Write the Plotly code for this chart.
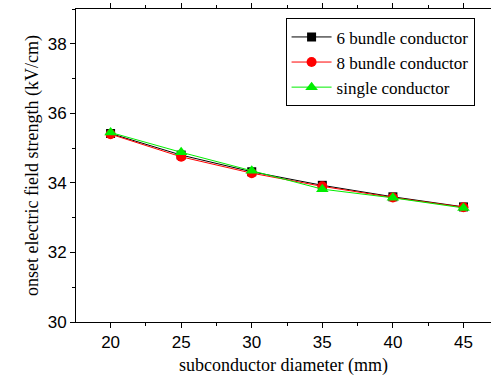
import plotly.graph_objects as go

diameters = [20, 25, 30, 35, 40, 45]
six_bundle = [35.42, 34.80, 34.32, 33.93, 33.60, 33.31]
eight_bundle = [35.40, 34.75, 34.28, 33.90, 33.58, 33.30]
single = [35.45, 34.88, 34.35, 33.82, 33.57, 33.28]

SERIF = "Liberation Serif, Times New Roman, DejaVu Serif, serif"
SANS = "Liberation Sans, Arial, sans-serif"

fig = go.Figure()
fig.add_trace(go.Scatter(x=diameters, y=six_bundle, name="6 bundle conductor",
                         mode="lines+markers", line=dict(color="black", width=1),
                         marker=dict(symbol="square", size=9, color="black")))
fig.add_trace(go.Scatter(x=diameters, y=eight_bundle, name="8 bundle conductor",
                         mode="lines+markers", line=dict(color="red", width=1),
                         marker=dict(symbol="circle", size=10, color="red")))
fig.add_trace(go.Scatter(x=diameters, y=single, name="single conductor",
                         mode="lines+markers", line=dict(color="#00ee00", width=1),
                         marker=dict(symbol="triangle-up", size=11, color="#00ee00")))

fig.update_layout(
    width=492, height=384,
    margin=dict(l=76, r=1, t=9, b=62),
    plot_bgcolor="white", paper_bgcolor="white",
    showlegend=True,
    legend=dict(x=0.505, y=0.97, xanchor="left", yanchor="top",
                bordercolor="black", borderwidth=1, bgcolor="white",
                font=dict(family=SERIF, size=17, color="black"),
                tracegroupgap=0, itemwidth=40),
    font=dict(family=SANS, size=17, color="black"),
)
fig.update_xaxes(range=[17.55, 46.95], tickmode="array", tickvals=diameters,
                 ticks="outside", ticklen=5, tickcolor="black",
                 showline=True, linecolor="black", linewidth=1, mirror="allticks",
                 showgrid=False, zeroline=False,
                 minor=dict(tickvals=[17.5, 22.5, 27.5, 32.5, 37.5, 42.5, 47.5],
                            ticks="outside", ticklen=3, tickcolor="black"),
                 title=dict(text="subconductor diameter (mm)",
                            font=dict(family=SERIF, size=18), standoff=6),
                 tickfont=dict(family=SANS, size=17))
fig.update_yaxes(range=[30, 39], tickvals=[30, 32, 34, 36, 38],
                 ticks="outside", ticklen=5, tickcolor="black",
                 showline=True, linecolor="black", linewidth=1, mirror=False,
                 showgrid=False, zeroline=False,
                 minor=dict(tickvals=[31, 33, 35, 37, 39], ticks="outside",
                            ticklen=3, tickcolor="black"),
                 title=dict(text="onset electric field strength (kV/cm)",
                            font=dict(family=SERIF, size=18), standoff=4),
                 tickfont=dict(family=SANS, size=17))

fig.write_html("out.html", config={"displayModeBar": False},
               post_script="document.body.style.margin='0';")
